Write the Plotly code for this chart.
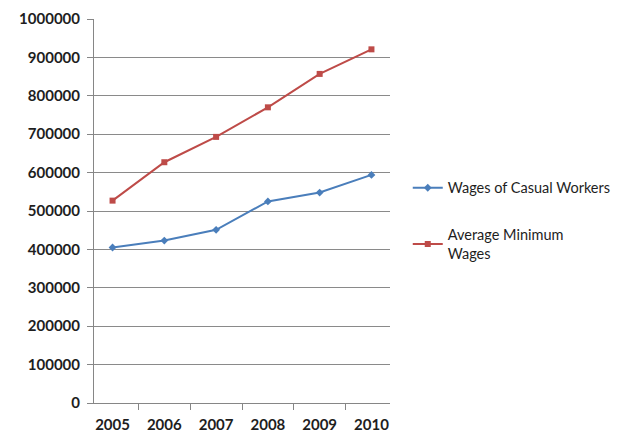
import plotly.graph_objects as go

years = ["2005", "2006", "2007", "2008", "2009", "2010"]
casual_wages = [405000, 423000, 451000, 525000, 548000, 594000]
min_wages = [527000, 627000, 693000, 770000, 857000, 921000]
y_ticks = [0, 100000, 200000, 300000, 400000, 500000, 600000, 700000, 800000, 900000, 1000000]

fig = go.Figure()
fig.add_trace(go.Scatter(
    x=years, y=casual_wages, name="Wages of Casual Workers", mode="lines+markers",
    line=dict(color="#4A7EBB", width=2), marker=dict(symbol="diamond", size=6, color="#4A7EBB"),
    legendgroup="a"))
fig.add_trace(go.Scatter(
    x=years, y=min_wages, name="Average Minimum<br>Wages", mode="lines+markers",
    line=dict(color="#BE4B48", width=2), marker=dict(symbol="square", size=6, color="#BE4B48"),
    legendgroup="b"))

fig.update_layout(
    width=620, height=427,
    margin=dict(l=86, r=238, t=11, b=32),
    paper_bgcolor="white", plot_bgcolor="white",
    font=dict(family="Lato, Liberation Sans, sans-serif", size=15, color="#1e1e1e"),
    showlegend=True,
    legend=dict(x=1.06, y=0.602, xanchor="left", yanchor="top", traceorder="grouped",
                tracegroupgap=25, font=dict(size=14.5, color="#1e1e1e"), bgcolor="rgba(0,0,0,0)",
                borderwidth=0),
    xaxis=dict(type="category", tickson="boundaries", ticks="outside", ticklen=6,
               tickcolor="#868686", showline=True, linecolor="#868686", linewidth=1,
               showgrid=False, tickfont=dict(size=15, color="#1e1e1e", weight="bold"),
               ticklabelstandoff=8, automargin=False),
    yaxis=dict(range=[0, 1000000], tickvals=y_ticks, ticktext=[str(v) for v in y_ticks],
               ticks="outside", ticklen=6, tickcolor="#868686", showline=True,
               linecolor="#868686", linewidth=1, showgrid=True, gridcolor="#8a8a8a",
               gridwidth=1, zeroline=False, tickfont=dict(size=15, color="#1e1e1e", weight="bold"),
               ticklabelstandoff=4, automargin=False),
)

fig.write_html("out.html")
